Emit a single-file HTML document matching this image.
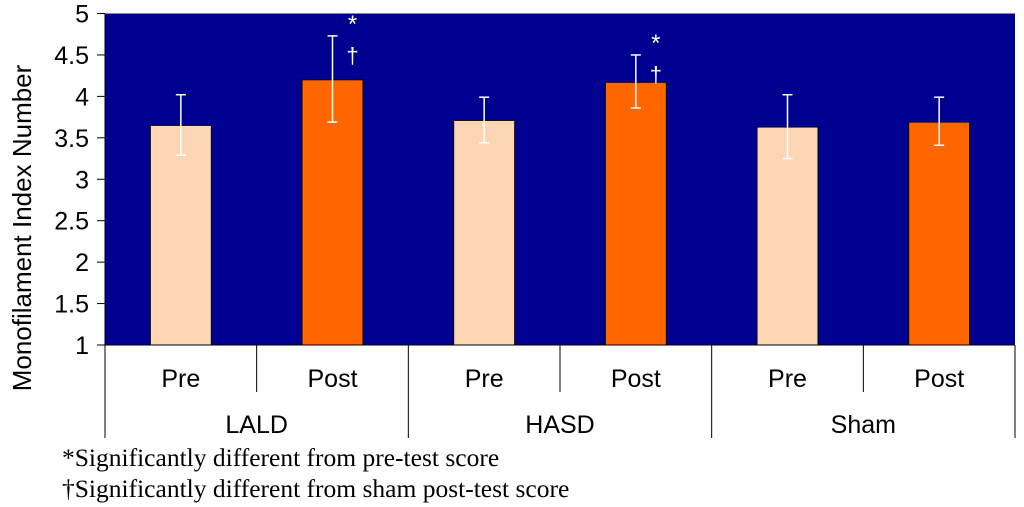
<!DOCTYPE html>
<html><head><meta charset="utf-8"><style>
html,body{margin:0;padding:0;background:#fff;width:1024px;height:507px;overflow:hidden}
svg text{font-family:"Liberation Sans",sans-serif}
</style></head><body>
<svg id="chart" width="1024" height="507" xmlns="http://www.w3.org/2000/svg">
<rect x="105" y="13.5" width="910" height="331.5" fill="#000090"/>
<g id="g"></g>
<text transform="translate(31,228) rotate(-90)" text-anchor="middle" font-size="26">Monofilament Index Number</text>
<text x="62" y="466" font-size="25.5" style="font-family:'Liberation Serif',serif">*Significantly different from pre-test score</text>
<text x="62" y="497" font-size="25.5" style="font-family:'Liberation Serif',serif">†Significantly different from sham post-test score</text>
</svg>
<script>
const groups=["LALD","HASD","Sham"];
const phases=["Pre","Post"];
const values=[3.65,4.2,3.71,4.17,3.63,3.69];
const errLow=[3.29,3.69,3.44,3.86,3.25,3.41];
const errHigh=[4.02,4.73,3.99,4.50,4.02,3.99];
const sigStar=[false,true,false,true,false,false];
const sigDagger=[false,true,false,true,false,false];
const yTicks=[1,1.5,2,2.5,3,3.5,4,4.5,5];
const X0=105,X1=1015,Y0=345,Y1=13.5,ymin=1,ymax=5;
const n=values.length,cw=(X1-X0)/n,bw=61;
const y=v=>Y0-(v-ymin)/(ymax-ymin)*(Y0-Y1);
const xc=i=>X0+cw*(i+0.5);
const g=document.getElementById('g');
const NS="http://www.w3.org/2000/svg";
function mk(t,a,parent){const e=document.createElementNS(NS,t);for(const k in a)e.setAttribute(k,a[k]);(parent||g).appendChild(e);return e;}
yTicks.forEach(t=>{
 const l=mk('line',{x1:X0-8,x2:X0,y1:y(t),y2:y(t),stroke:'#000','stroke-width':1});
 
 
 const tx=mk('text',{x:X0-16,y:y(t)+9,'text-anchor':'end','font-size':25});
 tx.textContent=t;
 
 
});
mk('line',{x1:X0,x2:X0,y1:Y1,y2:Y0,stroke:'#000'});
for(let i=0;i<n;i++){
 const v=values[i];
 const r=mk('rect',{x:xc(i)-bw/2,y:y(v),width:bw,height:Y0-y(v),fill:i%2?'#ff6600':'#fcd5b5',stroke:'#000','stroke-width':1});
 
 
 const eg=mk('g',{stroke:'#fff','stroke-width':1.5});
 
 
 mk('line',{x1:xc(i),x2:xc(i),y1:y(errLow[i]),y2:y(errHigh[i])},eg);
 mk('line',{x1:xc(i)-5,x2:xc(i)+5,y1:y(errLow[i]),y2:y(errLow[i])},eg);
 mk('line',{x1:xc(i)-5,x2:xc(i)+5,y1:y(errHigh[i]),y2:y(errHigh[i])},eg);
 if(sigStar[i]){const s=mk('text',{x:xc(i)+20,y:y(errHigh[i])-4,'text-anchor':'middle','font-size':24,fill:'#fff'});s.textContent='*';
  
  }
 if(sigDagger[i]){const s=mk('text',{x:xc(i)+20,y:y(errHigh[i])+27,'text-anchor':'middle','font-size':22,fill:'#fff'});s.textContent='†';
  
  }
 const pl=mk('text',{x:xc(i),y:387,'text-anchor':'middle','font-size':25});
 pl.textContent=phases[i%2];
 
 
}
mk('line',{x1:X0,x2:X1,y1:Y0,y2:Y0,stroke:'#000'});
for(let i=0;i<=n;i++){
 const xx=X0+cw*i,long=i%2===0;
 const l=mk('line',{x1:xx,x2:xx,y1:Y0,y2:long?438:392,stroke:'#000'});
 
 
}
groups.forEach((gn,k)=>{
 const t=mk('text',{x:X0+cw*(2*k+1),y:433,'text-anchor':'middle','font-size':25});
 t.textContent=gn;
 
 
});
</script>
</body></html>
